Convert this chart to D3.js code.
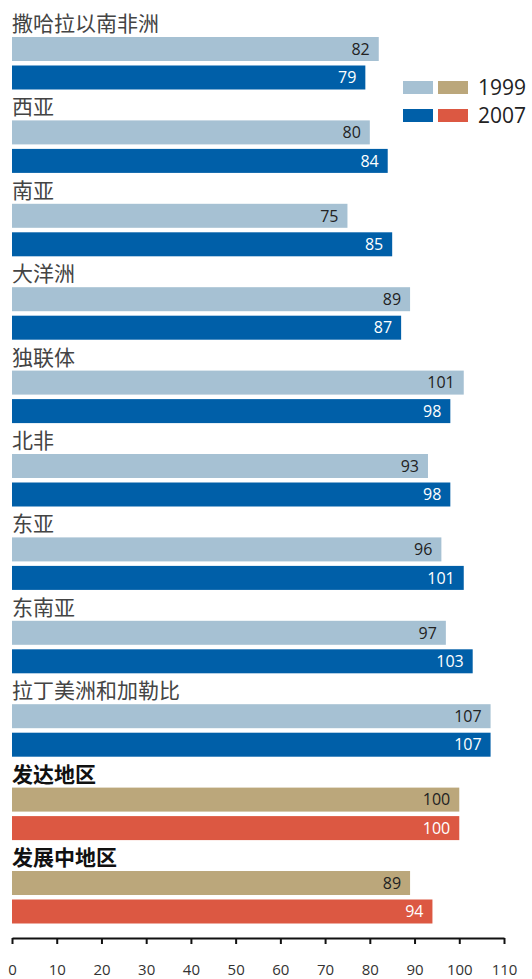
<!DOCTYPE html>
<html>
<head>
<meta charset="utf-8">
<script src="https://cdn.jsdelivr.net/npm/d3@7"></script>
<style>
  html, body { margin: 0; padding: 0; background: #fff; }
  svg { display: block; }
</style>
</head>
<body>
<svg id="chart" width="532" height="979"></svg>
<script>
// Regions, top to bottom
const regions = ["撒哈拉以南非洲", "西亚", "南亚", "大洋洲", "独联体", "北非", "东亚", "东南亚", "拉丁美洲和加勒比", "发达地区", "发展中地区"];
// Aggregate groups drawn in bold with the warm palette
const aggregates = ["发达地区", "发展中地区"];
const values1999 = [82, 80, 75, 89, 101, 93, 96, 97, 107, 100, 89];
const values2007 = [79, 84, 85, 87, 98, 98, 101, 103, 107, 100, 94];
const years = ["1999", "2007"];
const xTicks = [0, 10, 20, 30, 40, 50, 60, 70, 80, 90, 100, 110];

const colors = {
  "1999": { region: "#a6c1d3", aggregate: "#bba77b" },
  "2007": { region: "#005fa8", aggregate: "#dc5842" }
};
const labelColors = {
  "1999": "#222",
  "2007": "#fff"
};

const svg = d3.select("#chart");
const cjk = "'Noto Sans CJK SC', 'Noto Sans', sans-serif";
const latin = "'Open Sans', 'Noto Sans', sans-serif";

const x = d3.scaleLinear().domain([0, 110]).range([12, 504]);
const y = d3.scaleBand().domain(regions).range([37, 37 + 83.4 * regions.length]).paddingInner(0).paddingOuter(0);
const barH = 24;
const offset = { "1999": 0, "2007": 28.5 };

const rows = regions.map((r, i) => ({
  region: r,
  agg: aggregates.includes(r),
  vals: { "1999": values1999[i], "2007": values2007[i] }
}));

const g = svg.append("g");

// Region labels above each pair of bars
g.selectAll("text.region")
  .data(rows)
  .join("text")
  .attr("class", "region")
  .attr("x", 12)
  .attr("y", d => y(d.region) - 6)
  .attr("font-family", cjk)
  .attr("font-size", 21)
  .attr("font-weight", d => d.agg ? 700 : 400)
  .attr("fill", d => d.agg ? "#111" : "#444")
  .text(d => d.region);

years.forEach(yr => {
  g.selectAll("rect.bar" + yr)
    .data(rows)
    .join("rect")
    .attr("class", "bar" + yr)
    .attr("x", x(0))
    .attr("y", d => y(d.region) + offset[yr])
    .attr("width", d => x(d.vals[yr]) - x(0))
    .attr("height", barH)
    .attr("fill", d => d.agg ? colors[yr].aggregate : colors[yr].region);

  g.selectAll("text.val" + yr)
    .data(rows)
    .join("text")
    .attr("class", "val" + yr)
    .attr("x", d => x(d.vals[yr]) - 9)
    .attr("y", d => y(d.region) + offset[yr] + barH / 2)
    .attr("dy", "0.36em")
    .attr("text-anchor", "end")
    .attr("font-family", latin)
    .attr("font-size", 16)
    .attr("fill", labelColors[yr])
    .text(d => d.vals[yr]);
});

// Legend
const legend = svg.append("g").attr("transform", "translate(403,81)");
years.forEach((yr, i) => {
  const row = legend.append("g").attr("transform", `translate(0,${i * 28})`);
  row.append("rect").attr("width", 30).attr("height", 13).attr("fill", colors[yr].region);
  row.append("rect").attr("x", 35).attr("width", 30).attr("height", 13).attr("fill", colors[yr].aggregate);
  row.append("text")
    .attr("x", 75).attr("y", 6.5).attr("dy", "0.36em")
    .attr("font-family", latin).attr("font-size", 21).attr("fill", "#222")
    .text(yr);
});

// Bottom axis
const axis = svg.append("g")
  .attr("transform", "translate(0,938)")
  .call(d3.axisBottom(x).tickValues(xTicks).tickSize(6).tickPadding(20).tickSizeOuter(0));
axis.select(".domain").attr("stroke", "#111").attr("stroke-width", 2);
axis.selectAll(".tick line").attr("stroke", "#111").attr("stroke-width", 2);
axis.selectAll(".tick text")
  .attr("font-family", latin)
  .attr("font-size", 15)
  .attr("fill", "#333");
</script>
</body>
</html>
